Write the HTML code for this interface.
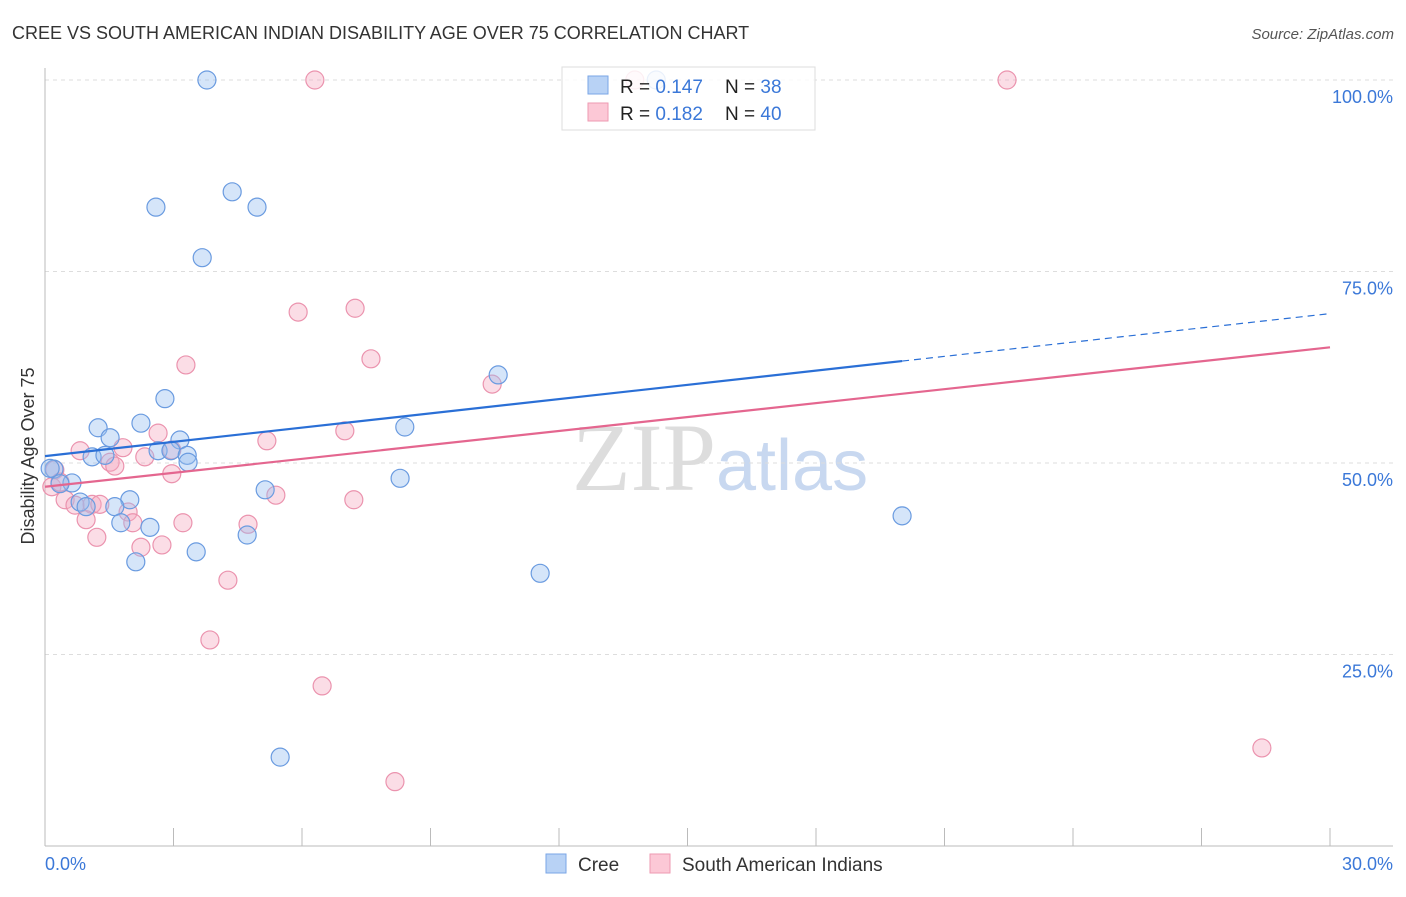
<!DOCTYPE html>
<html><head><meta charset="utf-8"><style>
body{margin:0;background:#fff;font-family:"Liberation Sans",sans-serif}
</style></head><body>
<svg id="c" width="1406" height="892" xmlns="http://www.w3.org/2000/svg" style="font-family:'Liberation Sans',sans-serif">
<text x="12" y="39" font-size="18" fill="#333">CREE VS SOUTH AMERICAN INDIAN DISABILITY AGE OVER 75 CORRELATION CHART</text>
<text x="1394" y="39" font-size="15" fill="#555" font-style="italic" text-anchor="end">Source: ZipAtlas.com</text>
<text x="716" y="490" font-size="96" fill="#ddd" text-anchor="end" font-family="Liberation Serif,serif">ZIP</text>
<text x="716" y="490" font-size="72" fill="#c8d8f0">atlas</text>
<text transform="translate(34,456) rotate(-90)" font-size="18" fill="#333" text-anchor="middle">Disability Age Over 75</text>
<g id="grid"></g><g id="pts"></g><g id="lines"></g>
<g>
<rect x="562" y="67" width="253" height="63" fill="#fff" fill-opacity="0.85" stroke="#ddd"/>
<rect x="588" y="76" width="20" height="18" fill="#b8d2f5" stroke="#7aa6e6"/>
<rect x="588" y="103" width="20" height="18" fill="#fcc8d6" stroke="#ee9ab2"/>
<text x="620" y="93" font-size="19" fill="#222">R = <tspan fill="#3b78d8">0.147</tspan></text>
<text x="725" y="93" font-size="19" fill="#222">N =  <tspan fill="#3b78d8">38</tspan></text>
<text x="620" y="120" font-size="19" fill="#222">R = <tspan fill="#3b78d8">0.182</tspan></text>
<text x="725" y="120" font-size="19" fill="#222">N = <tspan fill="#3b78d8">40</tspan></text>
</g>
<g>
<rect x="546" y="854" width="20" height="19" fill="#b8d2f5" stroke="#7aa6e6"/>
<text x="578" y="871" font-size="19" fill="#333">Cree</text>
<rect x="650" y="854" width="20" height="19" fill="#fcc8d6" stroke="#ee9ab2"/>
<text x="682" y="871" font-size="19" fill="#333">South American Indians</text>
</g>
</svg>
<script>
const creeX=[3.78,14.27,4.37,2.59,4.95,3.67,10.58,2.80,2.24,1.24,8.40,1.52,3.15,1.10,1.40,2.64,2.94,3.32,3.34,0.21,0.12,0.63,0.35,8.29,0.82,0.96,1.98,1.63,5.14,1.77,2.45,4.72,3.53,2.12,11.56,20.01,5.49];
const creeY=[100,100,85.4,83.4,83.4,76.8,61.5,58.4,55.2,54.6,54.7,53.3,53.0,50.8,51.0,51.6,51.6,51.0,50.1,49.2,49.3,47.4,47.3,48.0,44.9,44.3,45.2,44.3,46.5,42.2,41.6,40.6,38.4,37.1,35.6,43.1,11.6];
const saiX=[6.30,13.77,22.46,5.91,7.24,3.29,7.61,10.44,2.64,7.00,5.18,0.82,1.82,2.33,1.52,1.63,2.96,2.96,0.23,0.16,0.35,0.47,0.70,1.10,1.28,0.96,1.21,1.94,2.05,2.24,2.73,3.22,4.74,5.39,7.21,4.27,3.85,6.47,8.17,28.41];
const saiY=[100,100,100,69.7,70.2,62.8,63.6,60.3,53.9,54.2,52.9,51.6,52.0,50.8,50.1,49.6,48.6,51.7,49.1,46.9,47.5,45.2,44.5,44.6,44.6,42.6,40.3,43.6,42.2,39.0,39.3,42.2,42.0,45.8,45.2,34.7,26.9,20.9,8.4,12.8];
const creeTrend=[50.9,69.5];
const saiTrend=[46.9,65.1];
const yTicks=[25,50,75,100];
const NS="http://www.w3.org/2000/svg";
const sx=v=>45+v/30*1285, sy=v=>846-v/100*766;
function mk(t,a,p){const e=document.createElementNS(NS,t);for(const k in a)e.setAttribute(k,a[k]);p.appendChild(e);return e;}
const grid=document.getElementById('grid'),pts=document.getElementById('pts'),lines=document.getElementById('lines');
for(const t of yTicks){
 const g=mk('line',{x1:45,x2:1393,y1:sy(t),y2:sy(t),stroke:'#ddd','stroke-dasharray':'4,4'},grid);
 
 
 const l=mk('text',{x:1393,y:sy(t)+23,'font-size':18,fill:'#3b78d8','text-anchor':'end'},grid);
 l.textContent=t.toFixed(1)+'%';
 
 
}
const ax=mk('line',{x1:45,x2:45,y1:68,y2:846,stroke:'#bbb'},grid);


const bx=mk('line',{x1:45,x2:1393,y1:846,y2:846,stroke:'#bbb'},grid);


for(let i=1;i<=10;i++){
 const t=mk('line',{x1:sx(i*3),x2:sx(i*3),y1:828,y2:846,stroke:'#bbb'},grid);
 
 
}
const xl0=mk('text',{x:45,y:870,'font-size':18,fill:'#3b78d8'},grid);xl0.textContent='0.0%';


const xl1=mk('text',{x:1393,y:870,'font-size':18,fill:'#3b78d8','text-anchor':'end'},grid);xl1.textContent='30.0%';


function dots(X,Y,fill,stroke,name){for(let i=0;i<X.length;i++){
 const c=mk('circle',{cx:sx(X[i]),cy:sy(Y[i]),r:9,fill:fill,stroke:stroke,'stroke-width':1.2},pts);
 
 
}}
dots(saiX,saiY,'rgba(246,170,192,0.4)','#eb93ae','sai-point');
dots(creeX,creeY,'rgba(150,190,240,0.4)','#6a9be0','cree-point');
const cb=20.01;
const l1=mk('line',{x1:sx(0),y1:sy(creeTrend[0]),x2:sx(cb),y2:sy(creeTrend[0]+(creeTrend[1]-creeTrend[0])*cb/30),stroke:'#2a6fd6','stroke-width':2.2},lines);


const l2=mk('line',{x1:sx(cb),y1:sy(creeTrend[0]+(creeTrend[1]-creeTrend[0])*cb/30),x2:sx(30),y2:sy(creeTrend[1]),stroke:'#2a6fd6','stroke-width':1.2,'stroke-dasharray':'7,5'},lines);


const l3=mk('line',{x1:sx(0),y1:sy(saiTrend[0]),x2:sx(30),y2:sy(saiTrend[1]),stroke:'#e4668f','stroke-width':2.2},lines);


</script>
</body></html>
